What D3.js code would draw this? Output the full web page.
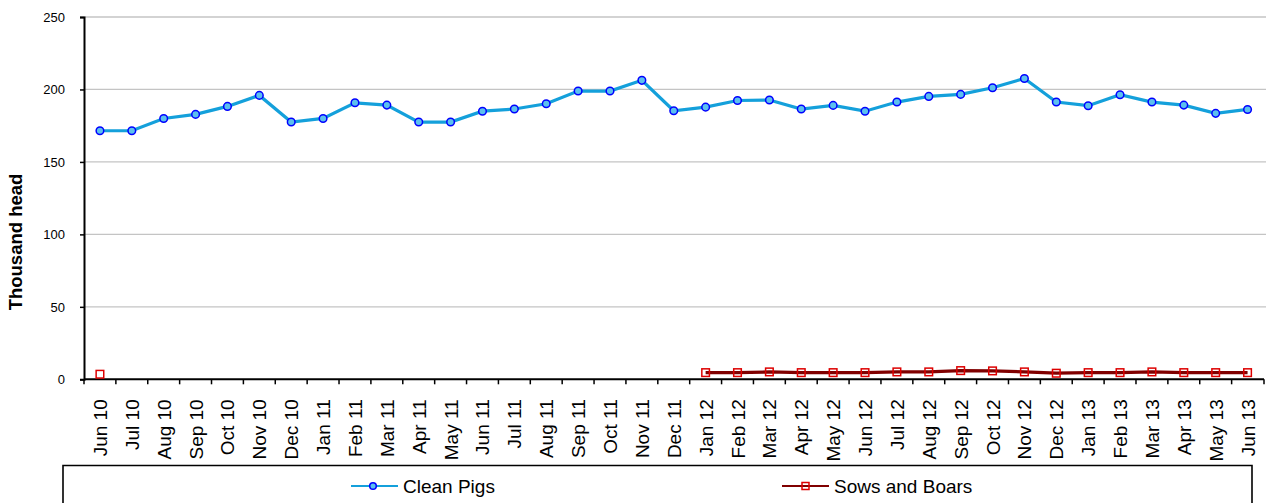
<!DOCTYPE html>
<html>
<head>
<meta charset="utf-8">
<script src="https://cdn.jsdelivr.net/npm/d3@7"></script>
<style>
  body { margin: 0; background: #fff; }
  svg { display: block; font-family: Arial, "Liberation Sans", sans-serif; }
</style>
</head>
<body>
<svg id="chart" width="1266" height="503"></svg>
<script>
// months on the x axis
var months = ["Jun 10","Jul 10","Aug 10","Sep 10","Oct 10","Nov 10","Dec 10","Jan 11","Feb 11","Mar 11",
  "Apr 11","May 11","Jun 11","Jul 11","Aug 11","Sep 11","Oct 11","Nov 11","Dec 11","Jan 12",
  "Feb 12","Mar 12","Apr 12","May 12","Jun 12","Jul 12","Aug 12","Sep 12","Oct 12","Nov 12",
  "Dec 12","Jan 13","Feb 13","Mar 13","Apr 13","May 13","Jun 13"];

// thousand head
var cleanPigs = [171.5,171.5,180,182.8,188.3,195.9,177.5,180,190.8,189.2,
  177.5,177.5,185,186.5,190.1,198.9,198.9,206.3,185.3,187.8,
  192.4,192.7,186.5,189,185,191.3,195.2,196.6,201.2,207.6,
  191.3,188.8,196.4,191.3,189.2,183.5,186.2];

var sowsBoars = [3.5,null,null,null,null,null,null,null,null,null,
  null,null,null,null,null,null,null,null,null,4.6,
  4.6,5.1,4.6,4.6,4.6,5.1,5.1,6.0,5.8,5.1,
  4.2,4.6,4.6,5.1,4.6,4.6,4.6];

var yTicks = [0, 50, 100, 150, 200, 250];
var seriesNames = ["Clean Pigs", "Sows and Boars"];

var svg = d3.select("#chart");

var margin = { top: 17, right: 2, bottom: 124, left: 84 };
var width = parseInt(svg.attr("width")) - margin.left - margin.right;
var height = parseInt(svg.attr("height")) - margin.top - margin.bottom;

var xScale = d3.scaleBand()
  .range([0, width - 0.5])
  .domain(months);

var yScale = d3.scaleLinear()
  .range([height + 0.3, 0])
  .domain([0, 250]);

var g = svg.append("g").attr("transform", "translate(" + margin.left + "," + margin.top + ")");

// gridlines
g.append("g")
  .selectAll("line")
  .data(yTicks.filter(d => d > 0))
  .enter()
  .append("line")
  .attr("x1", 0)
  .attr("x2", width + margin.right)
  .attr("y1", d => yScale(d))
  .attr("y2", d => yScale(d))
  .attr("stroke", "#c4c4c4")
  .attr("stroke-width", 1.3);

// y axis
var yAxis = g.append("g")
  .call(d3.axisLeft(yScale).tickValues(yTicks).tickSize(4).tickPadding(15));
yAxis.select(".domain").attr("stroke", "#000").attr("stroke-width", 2);
yAxis.selectAll(".tick line").attr("stroke", "#000").attr("stroke-width", 1.5);
yAxis.selectAll("text").attr("font-size", 13).attr("fill", "#000")
  .attr("font-family", "Arial, 'Liberation Sans', sans-serif");

// x axis: ticks on band boundaries
var xAxis = g.append("g").attr("transform", "translate(0," + yScale(0) + ")");
xAxis.append("line")
  .attr("x1", 0).attr("x2", width)
  .attr("stroke", "#000").attr("stroke-width", 2);
xAxis.selectAll(".bt")
  .data(months)
  .enter()
  .append("line")
  .attr("class", "bt")
  .attr("x1", d => xScale(d))
  .attr("x2", d => xScale(d))
  .attr("y1", 0).attr("y2", 5)
  .attr("stroke", "#000").attr("stroke-width", 1.5);
xAxis.append("line")
  .attr("x1", width).attr("x2", width).attr("y1", 0).attr("y2", 5)
  .attr("stroke", "#000").attr("stroke-width", 1.5);
xAxis.selectAll("text")
  .data(months)
  .enter()
  .append("text")
  .attr("transform", d => "translate(" + (xScale(d) + xScale.bandwidth() / 2 + 7) + ",20) rotate(-90)")
  .style("text-anchor", "end")
  .attr("font-size", 19)
  .attr("fill", "#000")
  .text(d => d);

// y title
svg.append("text")
  .attr("transform", "translate(22,242) rotate(-90)")
  .style("text-anchor", "middle")
  .attr("font-size", 18.5)
  .attr("font-weight", "bold")
  .attr("fill", "#000")
  .text("Thousand head");

var cx = d => xScale(d) + xScale.bandwidth() / 2;

// Clean Pigs
var pigLine = d3.line()
  .x((d, i) => cx(months[i]))
  .y(d => yScale(d));
g.append("path")
  .datum(cleanPigs)
  .attr("d", pigLine)
  .attr("fill", "none")
  .attr("stroke", "#14a0db")
  .attr("stroke-width", 3.2);
g.selectAll(".pig")
  .data(cleanPigs)
  .enter()
  .append("circle")
  .attr("class", "pig")
  .attr("cx", (d, i) => cx(months[i]))
  .attr("cy", d => yScale(d))
  .attr("r", 3.8)
  .attr("fill", "#5cc0ee")
  .attr("stroke", "#0000ff")
  .attr("stroke-width", 1.5);

// Sows and Boars
var sowLine = d3.line()
  .defined(d => d !== null)
  .x((d, i) => cx(months[i]))
  .y(d => yScale(d));
g.append("path")
  .datum(sowsBoars)
  .attr("d", sowLine)
  .attr("fill", "none")
  .attr("stroke", "#800000")
  .attr("stroke-width", 3.2);
var sowPts = sowsBoars.map((d, i) => ({ m: months[i], v: d })).filter(d => d.v !== null);
g.selectAll(".sow")
  .data(sowPts)
  .enter()
  .append("rect")
  .attr("class", "sow")
  .attr("x", d => cx(d.m) - 3.8)
  .attr("y", d => yScale(d.v) - 3.8)
  .attr("width", 7.6)
  .attr("height", 7.6)
  .attr("fill", "none")
  .attr("stroke", "#dd0000")
  .attr("stroke-width", 1.5);

// legend box
svg.append("path")
  .attr("d", "M63,505V465.5H1252V505")
  .attr("fill", "none")
  .attr("stroke", "#000")
  .attr("stroke-width", 1.6);

var legend = svg.append("g");
var legendX = [351, 782];
var legendColors = ["#14a0db", "#800000"];
legendX.forEach(function(x0, i) {
  var ly = 486;
  legend.append("line")
    .attr("x1", x0).attr("x2", x0 + 47)
    .attr("y1", ly).attr("y2", ly)
    .attr("stroke", legendColors[i]).attr("stroke-width", 2.2);
  if (i === 0) {
    legend.append("circle")
      .attr("cx", x0 + 22).attr("cy", ly).attr("r", 3.3)
      .attr("fill", "#5cc0ee").attr("stroke", "#0000ff").attr("stroke-width", 1.5);
  } else {
    legend.append("rect")
      .attr("x", x0 + 20).attr("y", ly - 3.5).attr("width", 7).attr("height", 7)
      .attr("fill", "none").attr("stroke", "#dd0000").attr("stroke-width", 1.5);
  }
  legend.append("text")
    .attr("x", x0 + 52).attr("y", ly + 7)
    .attr("font-size", 19)
    .attr("fill", "#000")
    .text(seriesNames[i]);
});
</script>
</body>
</html>
